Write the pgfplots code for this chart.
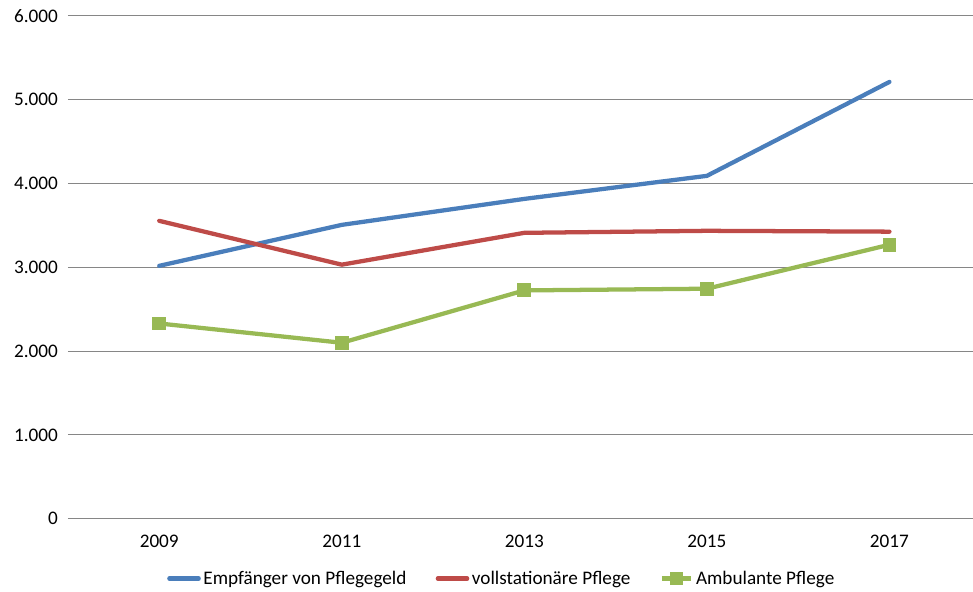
\documentclass[border=0pt]{standalone}
\usepackage{pgfplots}
\pgfplotsset{compat=1.18}
\usepackage{fontspec}
\setmainfont{Carlito}
\definecolor{cblue}{HTML}{4A7EBB}
\definecolor{cred}{HTML}{BE4B48}
\definecolor{cgreen}{HTML}{98B954}
\definecolor{cgrid}{HTML}{868686}
\begin{document}
\begin{tikzpicture}[x=1pt,y=1pt]
\begin{axis}[
  name=ax,
  scale only axis,
  width=678.75pt, height=377.25pt,
  xmin=-0.5, xmax=4.455,
  ymin=0, ymax=6000,
  xtick={0,1,2,3,4},
  xticklabels={2009,2011,2013,2015,2017},
  ytick={0,1000,2000,3000,4000,5000,6000},
  ymajorgrids,
  grid style={cgrid, line width=0.75pt},
  axis line style={draw=none},
  major tick length=0pt,
  tick style={draw=none},
  /pgf/number format/assume math mode=true,
  /pgf/number format/1000 sep={.},
  scaled y ticks=false,
  font=\fontsize{14.4pt}{17pt}\selectfont,
  ticklabel style={font=\fontsize{14.4pt}{17pt}\selectfont},
  xticklabel style={yshift=-9pt},
  yticklabel style={xshift=-4pt},
  legend style={draw=none, at={(0.48,-0.119)}, anchor=center, legend columns=3,
    font=\fontsize{14.4pt}{17pt}\selectfont,
    /tikz/every even column/.append style={column sep=20pt}},
  legend cell align=left,
  legend image code/.code={\draw[mark repeat=2,mark phase=2,#1] plot coordinates {(0pt,0pt) (11pt,0pt) (22pt,0pt)};},
]
\addplot[cblue, line width=3.2pt, line join=round, line cap=round] coordinates {(0,3018) (1,3507) (2,3817) (3,4092) (4,5213)};
\addlegendentry{Empfänger von Pflegegeld}
\addplot[cred, line width=3.2pt, line join=round, line cap=round] coordinates {(0,3555) (1,3032) (2,3412) (3,3436) (4,3426)};
\addlegendentry{vollstationäre Pflege}
\addplot[cgreen, line width=3.2pt, line join=round, mark=square*, mark size=4.8pt, mark options={solid, line width=0pt, fill=cgreen}] coordinates {(0,2330) (1,2100) (2,2725) (3,2745) (4,3270)};
\addlegendentry{Ambulante Pflege}
\end{axis}
\path ([xshift=-51pt,yshift=-54.75pt]ax.south west) rectangle ([yshift=12pt]ax.north east);
\end{tikzpicture}
\end{document}
